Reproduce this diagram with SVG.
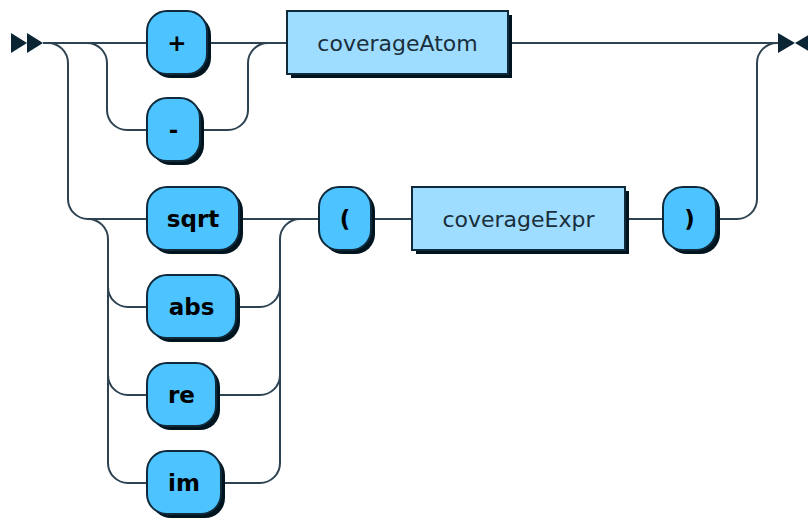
<svg xmlns="http://www.w3.org/2000/svg" width="808" height="522" viewBox="0 0 808 522">
<defs>
<style>
.line{fill:none;stroke:#2E4352;stroke-width:2}
.filled{fill:#0B2535;stroke:none}
.shadow{fill:#00141F;stroke:none}
rect.terminal{fill:#4DC3FF;stroke:#0F2A3A;stroke-width:2}
rect.nonterminal{fill:#9EDDFF;stroke:#0F2A3A;stroke-width:2}
text.terminal{font-family:"DejaVu Sans","Liberation Sans",sans-serif;font-size:23px;font-weight:bold;fill:#000;text-anchor:middle}
text.nonterminal{font-family:"DejaVu Sans","Liberation Sans",sans-serif;font-size:22px;fill:#1A2E3B;text-anchor:middle}
</style>
</defs>
<rect width="808" height="522" fill="#fff"/>
<g id="connectors">
<path class="line" d="M43 43 H147"/>
<path class="line" d="M207 43 H287"/>
<path class="line" d="M87 43 a20 20 0 0 1 20 20 V110 a20 20 0 0 0 20 20 H147"/>
<path class="line" d="M200 130 H228 a20 20 0 0 0 20 -20 V63 a20 20 0 0 1 20 -20"/>
<path class="line" d="M48 43 a20 20 0 0 1 20 20 V199 a20 20 0 0 0 20 20 H147"/>
<path class="line" d="M88 219 a20 20 0 0 1 20 20 V463 a20 20 0 0 0 20 20 H147"/>
<path class="line" d="M108 287 a20 20 0 0 0 20 20 H147"/>
<path class="line" d="M108 375 a20 20 0 0 0 20 20 H147"/>
<path class="line" d="M239 219 H319"/>
<path class="line" d="M221 483 H260 a20 20 0 0 0 20 -20 V239 a20 20 0 0 1 20 -20"/>
<path class="line" d="M236 307 H260 a20 20 0 0 0 20 -20"/>
<path class="line" d="M216 395 H260 a20 20 0 0 0 20 -20"/>
<path class="line" d="M371 219 H412"/>
<path class="line" d="M625 219 H663"/>
<path class="line" d="M716 219 H737 a20 20 0 0 0 20 -20 V63 a20 20 0 0 1 20 -20"/>
<path class="line" d="M508 43 H778"/>
<polygon class="filled" points="27 43 11 33 11 53"/>
<polygon class="filled" points="43 43 27 33 27 53"/>
<polygon class="filled" points="795 43 778 33 778 53"/>
<polygon class="filled" points="795 43 812 33 812 53"/>
</g>
<g id="plus">
<rect class="shadow" x="151" y="15" width="60" height="63" rx="20"/>
<rect class="terminal" x="147" y="11" width="60" height="63" rx="20"/>
<text class="terminal" x="177" y="51">+</text>
</g>
<g id="minus">
<rect class="shadow" x="151" y="102" width="53" height="63" rx="20"/>
<rect class="terminal" x="147" y="98" width="53" height="63" rx="20"/>
<text class="terminal" x="173.5" y="138">-</text>
</g>
<g id="coverageAtom">
<rect class="shadow" x="291" y="15" width="221" height="63"/>
<rect class="nonterminal" x="287" y="11" width="221" height="63"/>
<text class="nonterminal" x="397.5" y="51">coverageAtom</text>
</g>
<g id="sqrt">
<rect class="shadow" x="151" y="191" width="92" height="63" rx="20"/>
<rect class="terminal" x="147" y="187" width="92" height="63" rx="20"/>
<text class="terminal" x="193" y="227">sqrt</text>
</g>
<g id="abs">
<rect class="shadow" x="151" y="279" width="89" height="63" rx="20"/>
<rect class="terminal" x="147" y="275" width="89" height="63" rx="20"/>
<text class="terminal" x="191.5" y="315">abs</text>
</g>
<g id="re">
<rect class="shadow" x="151" y="367" width="69" height="63" rx="20"/>
<rect class="terminal" x="147" y="363" width="69" height="63" rx="20"/>
<text class="terminal" x="181.5" y="403">re</text>
</g>
<g id="im">
<rect class="shadow" x="151" y="455" width="74" height="63" rx="20"/>
<rect class="terminal" x="147" y="451" width="74" height="63" rx="20"/>
<text class="terminal" x="184" y="491">im</text>
</g>
<g id="lparen">
<rect class="shadow" x="323" y="191" width="52" height="63" rx="20"/>
<rect class="terminal" x="319" y="187" width="52" height="63" rx="20"/>
<text class="terminal" x="345" y="227">(</text>
</g>
<g id="coverageExpr">
<rect class="shadow" x="416" y="191" width="213" height="63"/>
<rect class="nonterminal" x="412" y="187" width="213" height="63"/>
<text class="nonterminal" x="518.5" y="227">coverageExpr</text>
</g>
<g id="rparen">
<rect class="shadow" x="667" y="191" width="53" height="63" rx="20"/>
<rect class="terminal" x="663" y="187" width="53" height="63" rx="20"/>
<text class="terminal" x="689.5" y="227">)</text>
</g>
</svg>
